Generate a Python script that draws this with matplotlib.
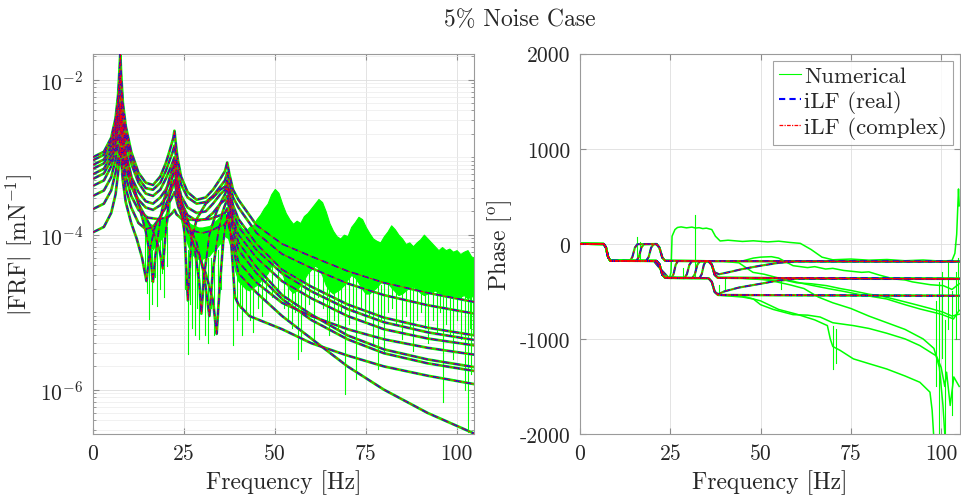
import numpy as np
import matplotlib.pyplot as plt
from matplotlib.ticker import FixedLocator, LogLocator, NullFormatter
from matplotlib.lines import Line2D

GREEN = "#00ff00"
BLUE = "#0000ff"
RED = "#ff0000"

# ---- magnitude of the iLF fits: (frequency [Hz], log10 |FRF|)
MAG_A = [(0, -3.00), (3, -2.93), (5, -2.75), (6.2, -2.5), (6.9, -2.2), (7.3, -1.86), (7.5, -1.66), (7.7, -1.9),
         (8.2, -2.3), (9, -2.6), (10.5, -2.93), (12.5, -3.2), (14.5, -3.33), (16.5, -3.36), (18.5, -3.25),
         (20, -3.08), (21, -2.93), (21.8, -2.8), (22.1, -2.75), (22.4, -2.66), (22.7, -2.8), (23.2, -3.0),
         (24.2, -3.25), (26, -3.45), (28.5, -3.55), (31, -3.52), (33, -3.42), (35, -3.28), (36.3, -3.18),
         (36.9, -3.07), (37.5, -3.22), (38.5, -3.42), (40, -3.55), (45, -3.88), (52, -4.12), (60, -4.28),
         (70, -4.47), (80, -4.62), (92, -4.75), (105, -4.87)]
MAG_B = [(0, -3.04), (3, -2.97), (5, -2.8), (6.2, -2.56), (6.9, -2.28), (7.3, -2.1), (7.5, -1.95), (7.7, -2.12),
         (8.2, -2.42), (9, -2.7), (10.5, -3.0), (12.5, -3.27), (14.5, -3.4), (16.5, -3.42), (18.5, -3.33),
         (20, -3.18), (21, -3.05), (21.8, -2.95), (22.1, -2.9), (22.4, -2.85), (22.7, -2.95), (23.2, -3.12),
         (24.2, -3.35), (26, -3.52), (28.5, -3.6), (31, -3.58), (33, -3.5), (35, -3.38), (36.3, -3.3),
         (36.9, -3.2), (37.5, -3.32), (38.5, -3.52), (40, -3.65), (45, -3.98), (52, -4.25), (60, -4.43),
         (70, -4.63), (80, -4.78), (92, -4.91), (105, -5.02)]
MAG_C = [(0, -3.10), (3, -3.03), (5, -2.86), (6.2, -2.62), (6.9, -2.4), (7.3, -2.3), (7.5, -2.2), (7.7, -2.32),
         (8.2, -2.55), (9, -2.8), (10.5, -3.08), (12.5, -3.33), (14.5, -3.47), (16.5, -3.5), (18.5, -3.42),
         (20, -3.28), (21, -3.17), (21.8, -3.08), (22.4, -3.0), (22.7, -3.08), (23.2, -3.25), (24.2, -3.55),
         (25.2, -4.0), (26.1, -4.85), (27, -4.1), (28.5, -3.8), (31, -3.6), (33, -3.52), (35, -3.42),
         (36.3, -3.38), (36.9, -3.3), (37.5, -3.42), (38.5, -3.62), (40, -3.8), (45, -4.12), (52, -4.45),
         (60, -4.67), (70, -4.9), (80, -5.07), (92, -5.2), (105, -5.30)]
MAG_D = [(0, -3.15), (3, -3.08), (5, -2.92), (6.2, -2.7), (6.9, -2.5), (7.3, -2.4), (7.5, -2.3), (7.7, -2.42),
         (8.2, -2.65), (9, -2.92), (10.5, -3.25), (12.5, -3.6), (14.5, -3.95), (15.8, -4.3), (16.5, -4.61),
         (17.2, -4.25), (18.5, -3.8), (20, -3.45), (21, -3.28), (21.8, -3.15), (22.4, -3.05), (22.7, -3.15),
         (23.2, -3.3), (24.2, -3.5), (26, -3.65), (28.5, -3.72), (31, -3.7), (33, -3.6), (35, -3.48),
         (36.3, -3.42), (36.9, -3.35), (37.5, -3.47), (38.5, -3.7), (40, -3.9), (45, -4.2), (52, -4.5),
         (60, -4.73), (70, -4.96), (80, -5.13), (92, -5.26), (105, -5.36)]
MAG_E = [(0, -3.22), (3, -3.15), (5, -2.98), (6.2, -2.75), (6.9, -2.55), (7.3, -2.45), (7.5, -2.35), (7.7, -2.47),
         (8.2, -2.7), (9, -2.97), (10.5, -3.25), (12.5, -3.45), (14.5, -3.57), (16.5, -3.6), (18.5, -3.52),
         (20, -3.42), (21, -3.33), (21.8, -3.26), (22.4, -3.2), (22.7, -3.26), (23.2, -3.38), (24.2, -3.55),
         (26, -3.8), (28, -4.2), (29.2, -4.6), (29.8, -5.02), (30.5, -4.55), (32, -4.0), (34, -3.7),
         (35.5, -3.55), (36.3, -3.48), (36.9, -3.4), (37.5, -3.52), (38.5, -3.8), (40, -4.0), (45, -4.3),
         (52, -4.6), (60, -4.82), (70, -5.05), (80, -5.22), (92, -5.34), (105, -5.43)]
MAG_F = [(0, -3.28), (3, -3.21), (5, -3.04), (6.2, -2.82), (6.9, -2.62), (7.3, -2.54), (7.5, -2.45), (7.7, -2.56),
         (8.2, -2.78), (9, -3.05), (10.5, -3.35), (12.5, -3.6), (14.5, -3.78), (16.5, -3.95), (18.3, -4.2),
         (19.2, -4.44), (20, -3.95), (21, -3.5), (21.8, -3.25), (22.4, -3.1), (22.7, -3.2), (23.2, -3.38),
         (24.2, -3.58), (26, -3.75), (28.5, -3.82), (31, -3.8), (33, -3.72), (35, -3.6), (36.3, -3.55),
         (36.9, -3.5), (37.5, -3.6), (38.5, -3.85), (40, -4.1), (45, -4.42), (52, -4.78), (60, -5.03),
         (70, -5.3), (80, -5.48), (92, -5.61), (105, -5.71)]
MAG_G = [(0, -3.37), (3, -3.3), (5, -3.12), (6.2, -2.9), (6.9, -2.7), (7.3, -2.6), (7.5, -2.5), (7.7, -2.62),
         (8.2, -2.85), (9, -3.12), (10.5, -3.38), (12.5, -3.55), (14.5, -3.65), (16.5, -3.68), (18.5, -3.62),
         (20, -3.52), (21, -3.43), (21.8, -3.36), (22.4, -3.3), (22.7, -3.36), (23.2, -3.47), (24.2, -3.62),
         (26, -3.85), (28.5, -4.1), (30.5, -4.5), (32, -5.05), (33, -4.45), (34.5, -3.95), (35.7, -3.7),
         (36.3, -3.62), (36.9, -3.55), (37.5, -3.66), (38.5, -3.95), (40, -4.2), (45, -4.5), (52, -4.83),
         (60, -5.1), (70, -5.35), (80, -5.53), (92, -5.66), (105, -5.76)]
MAG_H = [(0, -3.50), (3, -3.43), (5, -3.26), (6.2, -3.03), (6.9, -2.83), (7.3, -2.73), (7.5, -2.62), (7.7, -2.75),
         (8.2, -2.98), (9, -3.25), (10.5, -3.5), (12.5, -3.68), (15, -3.78), (18, -3.8), (20.5, -3.78),
         (21.8, -3.72), (22.4, -3.68), (23, -3.74), (24.5, -3.8), (28, -3.81), (32, -3.8), (35, -3.75),
         (36.3, -3.72), (36.9, -3.66), (37.5, -3.8), (38.3, -4.3), (39, -4.8), (40, -4.9), (43, -5.05),
         (52, -5.22), (60, -5.4), (70, -5.56), (80, -5.7), (92, -5.82), (105, -5.93)]
MAG_I = [(0, -3.67), (3, -3.6), (5, -3.43), (6.2, -3.2), (6.9, -3.0), (7.3, -2.9), (7.5, -2.78), (7.7, -2.9),
         (8.2, -3.13), (9, -3.4), (10.5, -3.65), (12.5, -3.85), (14.5, -3.93), (16.5, -3.9), (18.5, -3.78),
         (20, -3.62), (21, -3.5), (21.8, -3.4), (22.4, -3.3), (22.7, -3.38), (23.2, -3.52), (24.2, -3.72),
         (26, -3.95), (28.5, -4.2), (31, -4.5), (33, -4.85), (34, -5.28), (34.8, -4.7), (35.8, -4.1),
         (36.4, -3.88), (36.9, -3.75), (37.5, -3.9), (38.5, -4.15), (40, -4.5), (45, -4.75), (52, -5.05),
         (60, -5.34), (70, -5.7), (80, -6.0), (92, -6.3), (105, -6.57)]
MAG_J = [(0, -3.97), (3, -3.9), (5, -3.72), (6.2, -3.48), (6.9, -3.2), (7.3, -3.02), (7.5, -2.88), (7.7, -3.02),
         (8.2, -3.3), (9, -3.58), (10.5, -3.85), (12, -4.05), (13.5, -4.3), (14.7, -4.6), (15.6, -4.2),
         (17, -3.9), (19, -3.72), (20.5, -3.62), (21.5, -3.54), (22.4, -3.45), (22.8, -3.52), (23.5, -3.65),
         (25, -3.82), (27.5, -3.95), (30, -3.98), (32.5, -3.95), (34.5, -3.9), (36, -3.88), (36.9, -3.82),
         (37.5, -3.92), (38.5, -4.05), (40, -4.35), (45, -4.62), (52, -4.88), (60, -5.05), (70, -5.22),
         (80, -5.35), (92, -5.46), (105, -5.55)]
MAG_FITS = [MAG_A, MAG_B, MAG_C, MAG_D, MAG_E, MAG_F, MAG_G, MAG_H, MAG_I, MAG_J]

# ---- dense core of the noisy numerical data above 38 Hz (log10, 1 Hz steps)
BAND_F = list(range(38, 106))
BAND_HI = [-3.55, -3.75, -3.85, -3.92, -3.95, -3.90, -3.88, -3.80, -3.74, -3.66,
           -3.60, -3.48, -3.41, -3.46, -3.60, -3.72, -3.80, -3.86, -3.82, -3.85,
           -3.76, -3.72, -3.66, -3.60, -3.54, -3.58, -3.70, -3.85, -3.95, -4.02,
           -4.05, -4.00, -4.02, -3.90, -3.84, -3.77, -3.80, -3.90, -3.98, -4.05,
           -4.08, -4.10, -4.02, -3.96, -3.88, -3.93, -4.00, -4.05, -4.12, -4.10,
           -4.15, -4.10, -4.06, -4.00, -4.05, -4.10, -4.15, -4.20, -4.16, -4.20,
           -4.18, -4.22, -4.20, -4.25, -4.22, -4.20, -4.28, -4.30]
BAND_LO = [-4.20, -4.45, -4.60, -4.65, -4.70, -4.72, -4.68, -4.65, -4.60, -4.55,
           -4.50, -4.40, -4.35, -4.40, -4.50, -4.62, -4.70, -4.75, -4.72, -4.65,
           -4.58, -4.50, -4.45, -4.40, -4.43, -4.52, -4.65, -4.72, -4.76, -4.73,
           -4.70, -4.65, -4.58, -4.52, -4.55, -4.62, -4.70, -4.76, -4.76, -4.72,
           -4.68, -4.62, -4.60, -4.62, -4.68, -4.73, -4.78, -4.76, -4.72, -4.68,
           -4.67, -4.70, -4.75, -4.78, -4.76, -4.74, -4.72, -4.75, -4.78, -4.80,
           -4.78, -4.80, -4.82, -4.80, -4.78, -4.82, -4.80, -4.78]

# noisy regions around the anti-resonances
DIP1_F = [13.5, 14.5, 15.5, 16.5, 17.5, 18.5, 19.5, 20.5, 21.2]
DIP1_HI = [-3.75, -3.8, -3.85, -3.87, -3.85, -3.82, -3.76, -3.66, -3.55]
DIP1_LO = [-3.88, -4.0, -4.15, -4.2, -4.12, -4.08, -4.02, -3.85, -3.65]
DIP2_F = [24, 25, 26, 27, 28, 29, 30, 31, 32, 33, 34, 35, 36, 37, 38]
DIP2_HI = [-3.65, -3.74, -3.82, -3.86, -3.88, -3.9, -3.9, -3.89, -3.88, -3.84, -3.8, -3.75, -3.7, -3.75, -3.85]
DIP2_LO = [-3.8, -4.0, -4.15, -4.25, -4.3, -4.32, -4.32, -4.3, -4.28, -4.22, -4.18, -4.12, -4.02, -4.05, -4.2]

# hair-like noise spikes: (frequency, top, bottom) in log10
MAG_SPIKES = [(14.2, -3.9, -4.5), (14.8, -4.0, -4.75), (15.3, -4.1, -5.09), (15.9, -4.1, -4.6),
              (16.2, -4.2, -4.9), (17.0, -4.1, -4.55), (17.5, -4.1, -4.92), (18.3, -4.05, -4.7),
              (19.0, -4.0, -4.5), (19.6, -4.0, -4.8), (20.3, -3.9, -4.4), (25.4, -4.0, -4.7),
              (26.2, -4.2, -5.54), (26.8, -4.2, -4.9), (27.2, -4.2, -5.2), (28.0, -4.3, -5.3),
              (28.6, -4.3, -4.95), (29.2, -4.3, -5.35), (30.1, -4.3, -4.9), (30.7, -4.3, -5.3),
              (31.5, -4.3, -5.4), (32.4, -4.3, -4.95), (33.2, -4.2, -5.3), (34.3, -4.2, -4.8),
              (35.2, -4.1, -4.7), (38.6, -4.3, -5.43), (39.5, -4.4, -5.1), (40.4, -4.5, -4.95),
              (41, -4.5, -5.3), (42.2, -4.55, -5.0), (43.1, -4.6, -5.1), (44, -4.6, -5.25),
              (45.3, -4.55, -4.95), (46.5, -4.5, -5.05), (47.6, -4.45, -4.85), (49.2, -4.3, -4.8),
              (51.0, -4.3, -4.75), (52.5, -4.4, -4.95), (53.6, -4.5, -5.1), (54.8, -4.6, -5.2),
              (55.5, -4.6, -5.0), (56.4, -4.6, -5.6), (57.3, -4.6, -5.5), (58.4, -4.5, -5.05),
              (59.5, -4.4, -4.9), (60.7, -4.35, -5.4), (62.0, -4.3, -4.8), (63.2, -4.4, -4.95),
              (64.3, -4.5, -5.1), (65, -4.55, -5.3), (66.2, -4.6, -5.1), (67.3, -4.65, -5.2),
              (68.1, -4.65, -5.0), (69.2, -4.6, -6.06), (70.4, -4.55, -5.15), (71.5, -4.45, -5.0),
              (72.4, -4.42, -5.86), (73.6, -4.45, -4.95), (74.8, -4.5, -5.1), (76.0, -4.55, -5.05),
              (77, -4.6, -5.4), (78.5, -4.65, -5.74), (79.3, -4.65, -5.1), (80, -4.6, -5.5),
              (81.2, -4.55, -5.0), (82.3, -4.5, -4.95), (83.4, -4.5, -5.15), (85, -4.58, -5.35),
              (86.2, -4.62, -5.05), (87.1, -4.66, -5.2), (88, -4.66, -5.5), (89.2, -4.62, -5.1),
              (90.3, -4.58, -5.0), (91.2, -4.57, -5.2), (92, -4.6, -5.4), (93.4, -4.65, -5.1),
              (94.5, -4.66, -5.25), (95.3, -4.65, -5.0), (96.2, -4.62, -6.16), (97.2, -4.65, -5.15),
              (98.1, -4.68, -5.3), (99, -4.7, -5.6), (100.1, -4.68, -5.1), (101.1, -4.7, -5.35),
              (102.2, -4.72, -6.0), (103, -4.7, -6.55), (103.6, -4.68, -5.2), (104, -4.7, -5.8),
              (104.5, -4.7, -5.3)]

# ---- phase of the iLF fits: (frequency [Hz], phase [deg])
PH_A = [(0, 0), (6.6, -2), (7.2, -40), (7.8, -140), (8.4, -178), (21.2, -180), (22.0, -215), (22.8, -325),
        (23.6, -358), (35.6, -362), (36.5, -400), (37.3, -505), (38.2, -538), (105, -548)]
PH_B = [(0, 0), (6.6, -2), (7.2, -40), (7.8, -140), (8.4, -178), (21.2, -180), (22.0, -215), (22.8, -325),
        (23.6, -358), (35.6, -362), (36.5, -400), (37.3, -505), (38.2, -538), (105, -545)]
PH_C = [(0, 0), (6.6, -2), (7.2, -40), (7.8, -140), (8.4, -178), (21.2, -180), (22.0, -215), (22.8, -325),
        (23.6, -358), (25.3, -360), (25.9, -320), (26.5, -220), (27.1, -182), (35.6, -182), (36.5, -220),
        (37.3, -325), (38.2, -358), (105, -368)]
PH_D = [(0, 0), (6.6, -2), (7.2, -40), (7.8, -140), (8.4, -178), (15.6, -180), (16.3, -140), (17.0, -40),
        (17.7, -4), (21.2, -2), (22.0, -40), (22.8, -145), (23.6, -178), (35.6, -182), (36.5, -220),
        (37.3, -325), (38.2, -358), (105, -368)]
PH_E = [(0, 0), (6.6, -2), (7.2, -40), (7.8, -140), (8.4, -178), (21.2, -180), (22.0, -215), (22.8, -325),
        (23.6, -358), (28.9, -360), (29.6, -320), (30.3, -220), (31.0, -182), (105, -185)]
PH_F = [(0, 0), (6.6, -2), (7.2, -40), (7.8, -140), (8.4, -178), (18.3, -180), (19.0, -140), (19.7, -40),
        (20.4, -4), (21.2, -4), (22.0, -40), (22.8, -145), (23.6, -178), (35.6, -182), (36.5, -220),
        (37.3, -300), (38.5, -320), (41, -300), (45, -265), (50, -230), (55, -200), (60, -186), (105, -188)]
PH_G = [(0, 0), (6.6, -2), (7.2, -40), (7.8, -140), (8.4, -178), (21.2, -180), (22.0, -215), (22.8, -325),
        (23.6, -358), (31.1, -360), (31.8, -320), (32.5, -220), (33.2, -182), (35.6, -182), (36.5, -220),
        (37.3, -325), (38.2, -358), (105, -368)]
PH_H = [(0, 0), (6.6, -2), (7.2, -40), (7.8, -140), (8.4, -178), (20.5, -182), (22.4, -270), (24.5, -355),
        (35.6, -362), (36.5, -400), (37.3, -505), (38.2, -530), (40, -500), (44, -460), (50, -420),
        (55, -385), (60, -368), (105, -370)]
PH_I = [(0, 0), (6.6, -2), (7.2, -40), (7.8, -140), (8.4, -178), (21.2, -180), (22.0, -215), (22.8, -325),
        (23.6, -358), (33.1, -360), (33.7, -320), (34.3, -220), (34.9, -182), (105, -185)]
PH_J = [(0, 0), (6.6, -2), (7.2, -40), (7.8, -140), (8.4, -178), (13.8, -180), (14.5, -140), (15.2, -40),
        (15.9, -4), (21.2, -2), (22.0, -40), (22.8, -145), (23.6, -178), (35.6, -182), (36.5, -220),
        (37.3, -325), (38.2, -358), (105, -368)]
PH_FITS = [PH_A, PH_B, PH_C, PH_D, PH_E, PH_F, PH_G, PH_H, PH_I, PH_J]

# ---- numerical phase curves that drift away from the fits
GPH_1 = [(24.8, -358), (25.2, -300), (25.5, 80), (26.3, 150), (27, 172), (28, 178), (29.5, 168), (31, 176),
         (32, 166), (33, 170), (34, 160), (35, 165), (36.5, 150), (37.5, 80), (38.8, 30), (41, 38), (45, 25),
         (48, 32), (52, 20), (55, 28), (58, 15), (61, 5), (64, -60), (67, -140), (70, -168), (75, -160),
         (80, -172), (85, -165), (90, -178), (95, -170), (100, -182), (103, -175), (103.8, -100),
         (104.3, 100), (104.8, 577), (105, 400)]
GPH_2 = [(40, -182), (45, -180), (48, -150), (50, -140), (53, -135), (55, -150), (59, -230), (63, -250),
         (65, -240), (68, -265), (70, -258), (73, -280), (78, -300), (80, -295), (83, -330), (87, -370),
         (90, -380), (92, -400), (97, -430), (100.6, -440), (103, -480), (105, -420)]
GPH_3 = [(40, -362), (45, -362), (49.9, -370), (55, -390), (57, -385), (60, -410), (64, -420), (68.3, -440),
         (72, -470), (75, -490), (80, -530), (83, -545), (86.8, -580), (92, -630), (97, -680),
         (100.6, -720), (103, -760), (105, -740)]
GPH_4 = [(38.5, -540), (45, -560), (48, -580), (50, -640), (53.5, -690), (59, -745), (63, -750),
         (66.5, -770), (70, -830), (75.7, -860), (80, -890), (84.9, -940), (90, -1000), (94.1, -1070),
         (98.7, -1180), (100, -1300), (101, -1500), (101.5, -1350), (102.5, -1700), (103.5, -1400),
         (105, -1500)]
GPH_5 = [(38.5, -540), (45, -550), (50, -600), (55, -690), (60, -740), (65, -800), (68.5, -860),
         (69.3, -1000), (70, -1080), (72, -1120), (75.7, -1210), (80, -1260), (84.9, -1316), (90, -1390),
         (94.1, -1456), (96.9, -1560), (97.5, -1750), (97.9, -2000)]
GPH_6 = [(45, -362), (52, -380), (58, -430), (62, -470), (66, -560), (70, -620), (75, -680), (80, -760),
         (85, -830), (90, -900), (95, -1000), (98, -1100), (99.5, -1300), (100.5, -1700), (101, -2000)]
GPH_7 = [(40, -185), (44, -200), (47.9, -300), (51, -320), (55, -360), (62, -420), (69.2, -474),
         (73, -500), (77, -530), (84.9, -580), (90, -640), (94.1, -685), (100, -740), (103.4, -790),
         (105, -700)]
GPH_DRIFT = [GPH_1, GPH_2, GPH_3, GPH_4, GPH_5, GPH_6, GPH_7]

# vertical noise spikes in the phase: (frequency, start, end)
PH_SPIKES = [(15.8, -180, 70), (16.6, -180, 20), (31.8, -360, 300), (28.6, -360, -250), (38.6, -540, -430),
             (40.2, -360, -470), (55.6, -360, -480), (70, -860, -1320), (70.8, -900, -1250),
             (98.5, -600, -1500), (99.5, -400, -2000), (100.2, -300, -1200), (101, -800, -2000),
             (102, -200, -900), (103, -500, -1800), (104, -300, -1000), (104.6, -150, -700)]

MAG_YTICKS = [1e-6, 1e-4, 1e-2]
PH_YTICKS = [-2000, -1000, 0, 1000, 2000]
FREQ_TICKS = [0, 25, 50, 75, 100]


def style_axes(ax):
    ax.set_axisbelow(True)
    ax.set_xticks(FREQ_TICKS)
    ax.tick_params(which="both", direction="in", top=True, right=True, color="#8c8c8c",
                   labelcolor="#262626", labelsize=15.5, pad=7)
    ax.tick_params(which="major", length=4)
    ax.tick_params(which="minor", length=2)
    for sp in ax.spines.values():
        sp.set_color("#9a9a9a")
        sp.set_linewidth(0.8)
    ax.grid(True, which="major", color="#dedede", lw=0.6)
    ax.set_xlabel("Frequency [Hz]", fontsize=17, color="#262626", labelpad=4)


def draw_fit(ax, f, y):
    ax.plot(f, y, color=BLUE, ls=(0, (4, 2.5)), lw=1.2, zorder=3)
    ax.plot(f, y, color=RED, ls=(0, (3, 1, 1, 1)), lw=0.7, zorder=4)


def draw_magnitude(ax):
    for pts in MAG_FITS:
        f, v = np.array(pts).T
        ax.plot(f, 10 ** v, color=GREEN, lw=2.0, zorder=1)
    ax.fill_between(BAND_F, 10 ** np.array(BAND_LO), 10 ** np.array(BAND_HI), color=GREEN, lw=0.8, zorder=1)
    ax.fill_between(DIP1_F, 10 ** np.array(DIP1_LO), 10 ** np.array(DIP1_HI), color=GREEN, lw=0, zorder=1)
    ax.fill_between(DIP2_F, 10 ** np.array(DIP2_LO), 10 ** np.array(DIP2_HI), color=GREEN, lw=0, zorder=1)
    for f, top, bot in MAG_SPIKES:
        ax.plot([f, f], [10 ** top, 10 ** bot], color=GREEN, lw=0.8, zorder=1)
    for pts in MAG_FITS:
        f, v = np.array(pts).T
        draw_fit(ax, f, 10 ** v)

    ax.set_yscale("log")
    ax.set_xlim(0, 104.8)
    ax.set_ylim(10 ** -6.572, 10 ** -1.665)
    ax.yaxis.set_major_locator(FixedLocator(MAG_YTICKS))
    ax.yaxis.set_minor_locator(LogLocator(base=10, subs=np.arange(1, 10), numticks=100))
    ax.yaxis.set_minor_formatter(NullFormatter())
    style_axes(ax)
    ax.grid(True, which="minor", axis="y", color="#ececec", lw=0.5)
    ax.set_ylabel(r"$|$FRF$|$ [mN$^{\mathrm{-1}}$]", fontsize=17, color="#262626", labelpad=4)


def draw_phase(ax):
    for pts in PH_FITS:
        f, p = np.array(pts).T
        ax.plot(f, p, color=GREEN, lw=1.6, zorder=1)
    for pts in GPH_DRIFT:
        f, p = np.array(pts).T
        ax.plot(f, p, color=GREEN, lw=1.1, zorder=1)
    for f, a, b in PH_SPIKES:
        ax.plot([f, f], [a, b], color=GREEN, lw=0.8, zorder=1)
    for pts in PH_FITS:
        f, p = np.array(pts).T
        draw_fit(ax, f, p)

    ax.set_xlim(0, 105.2)
    ax.set_ylim(-2000, 2000)
    ax.set_yticks(PH_YTICKS)
    ax.set_yticklabels([str(t) for t in PH_YTICKS])
    style_axes(ax)
    ax.set_ylabel(r"Phase [$^{\mathrm{o}}$]", fontsize=17, color="#262626", labelpad=4)

    handles = [Line2D([], [], color=GREEN, lw=0.8),
               Line2D([], [], color=BLUE, ls=(0, (3, 2)), lw=1.5),
               Line2D([], [], color=RED, ls=(0, (3, 1, 1, 1)), lw=0.9)]
    leg = ax.legend(handles, ["Numerical", "iLF (real)", "iLF (complex)"], loc="upper right",
                    fontsize=16.5, frameon=True, fancybox=False, edgecolor="#8c8c8c",
                    borderpad=0.25, handlelength=0.95, handletextpad=0.15, labelspacing=0.15,
                    borderaxespad=0.3)
    leg.get_frame().set_linewidth(0.8)
    for t in leg.get_texts():
        t.set_color("#262626")


if __name__ == "__main__":
    plt.rcParams["font.family"] = ["cmr10", "DejaVu Serif"]
    plt.rcParams["mathtext.fontset"] = "cm"
    plt.rcParams["axes.unicode_minus"] = False
    plt.rcParams["axes.formatter.use_mathtext"] = False

    fig = plt.figure(figsize=(9.61, 5.02), dpi=100)
    ax_mag = fig.add_axes([0.0968, 0.1335, 0.3965, 0.7576])
    ax_ph = fig.add_axes([0.6035, 0.1335, 0.3954, 0.7576])
    draw_magnitude(ax_mag)
    draw_phase(ax_ph)
    fig.text(0.5406, 0.96, "5% Noise Case", ha="center", va="center", fontsize=17, color="#262626")
    fig.savefig("out.png", dpi=100)
